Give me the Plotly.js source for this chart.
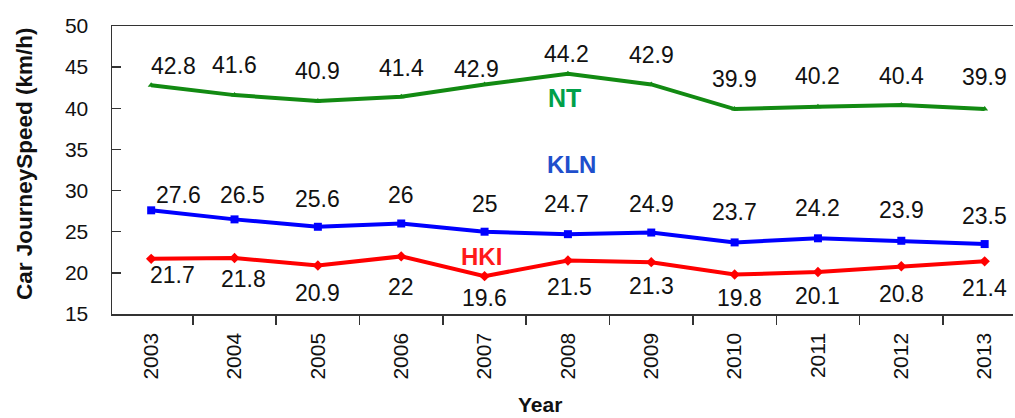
<!DOCTYPE html>
<html>
<head>
<meta charset="utf-8">
<script src="https://cdn.plot.ly/plotly-3.0.1.min.js"></script>
<style>html,body{margin:0;padding:0;background:#fff;}#chart{width:1015px;height:418px;}</style>
</head>
<body>
<div id="chart"></div>
<script>
// Car journey speed by region, 2003-2013 (km/h)
const years = ['2003','2004','2005','2006','2007','2008','2009','2010','2011','2012','2013'];
const ntSpeed  = [42.8, 41.6, 40.9, 41.4, 42.9, 44.2, 42.9, 39.9, 40.2, 40.4, 39.9];
const klnSpeed = [27.6, 26.5, 25.6, 26, 25, 24.7, 24.9, 23.7, 24.2, 23.9, 23.5];
const hkiSpeed = [21.7, 21.8, 20.9, 22, 19.6, 21.5, 21.3, 19.8, 20.1, 20.8, 21.4];

// Value-label nudges in pixels [dx, dy], dy positive = upward
const ntNudge  = [[22,19],[0,30],[0,30],[0,29],[-8,15],[-1,20],[0,29],[0,30],[0,31],[0,29],[0,32]];
const klnNudge = [[27,15],[8,24],[0,28],[0,28],[0,28],[-1,30],[0,29],[0,30],[0,30],[0,31],[0,28]];
const hkiNudge = [[21,-16],[9,-21],[0,-28],[0,-31],[0,-22],[2,-26],[0,-24],[5,-23],[0,-24],[0,-28],[0,-27]];

const FONT = 'Liberation Sans, Arial, sans-serif';

function series(name, y, color, symbol, size) {
  return {
    type: 'scatter', mode: 'lines+markers', name: name,
    x: years, y: y,
    line: {color: color, width: 4},
    marker: {color: color, symbol: symbol, size: size},
    cliponaxis: false,
    hoverinfo: 'x+y'
  };
}

const data = [
  series('NT', ntSpeed, '#128a12', 'triangle-up', 6),
  series('KLN', klnSpeed, '#0000ff', 'square', 8),
  series('HKI', hkiSpeed, '#ff0000', 'diamond', 8)
];

// Value labels attached to each point
function valueLabels(y, nudge) {
  return y.map((v, i) => ({
    text: String(v), x: i, y: v, xref: 'x', yref: 'y', showarrow: false,
    xshift: nudge[i][0], yshift: nudge[i][1],
    font: {family: FONT, size: 23, color: '#111'}
  }));
}

const plotW = 1015 - 112 - 2, plotH = 418 - 26 - 104;

const annotations = [].concat(
  valueLabels(ntSpeed, ntNudge),
  valueLabels(klnSpeed, klnNudge),
  valueLabels(hkiSpeed, hkiNudge),
  [
    {text: '<b>NT</b>', x: 4.96, y: 41.28, xref: 'x', yref: 'y', showarrow: false,
     font: {family: FONT, size: 25, color: '#00a04a'}},
    {text: '<b>KLN</b>', x: 5.04, y: 33.2, xref: 'x', yref: 'y', showarrow: false,
     font: {family: FONT, size: 24, color: '#1f4fcc'}},
    {text: '<b>HKI</b>', x: 3.96, y: 22.0, xref: 'x', yref: 'y', showarrow: false,
     font: {family: FONT, size: 24, color: '#ff1a1a'}},
    {text: '<b>Year</b>', showarrow: false, xref: 'paper', yref: 'paper',
     xanchor: 'center', yanchor: 'middle',
     x: (540 - 112) / plotW, y: (418 - 104 - 404) / plotH,
     font: {family: FONT, size: 21, color: '#111'}},
    {text: '<b>Car JourneySpeed (km/h)</b>', textangle: -90, showarrow: false,
     xref: 'paper', yref: 'paper', xanchor: 'center', yanchor: 'middle',
     x: (24 - 112) / plotW, y: (418 - 104 - 164) / plotH,
     font: {family: FONT, size: 22.5, color: '#111'}}
  ]
);

const layout = {
  width: 1015, height: 418,
  margin: {l: 112, r: 2, t: 26, b: 104},
  paper_bgcolor: '#fff', plot_bgcolor: '#fff',
  showlegend: false,
  font: {family: FONT, color: '#111'},
  xaxis: {
    type: 'category',
    range: [-0.47, 10.34],
    tickson: 'boundaries',
    ticks: 'outside', ticklen: 9, tickwidth: 1.5, tickcolor: '#333',
    showline: true, linecolor: '#333', linewidth: 1.5, mirror: true,
    showgrid: false, zeroline: false,
    tickangle: -90,
    ticklabelstandoff: 9,
    tickfont: {family: FONT, size: 21, color: '#111'}
  },
  yaxis: {
    range: [15, 50], dtick: 5,
    ticks: 'inside', ticklen: 9, tickwidth: 1.5, tickcolor: '#333',
    showline: true, linecolor: '#333', linewidth: 1.5,
    showgrid: false, zeroline: false,
    ticklabelstandoff: 18,
    tickfont: {family: FONT, size: 21, color: '#111'}
  },
  annotations: annotations
};

Plotly.newPlot('chart', data, layout, {displayModeBar: false, staticPlot: true});
</script>
</body>
</html>
